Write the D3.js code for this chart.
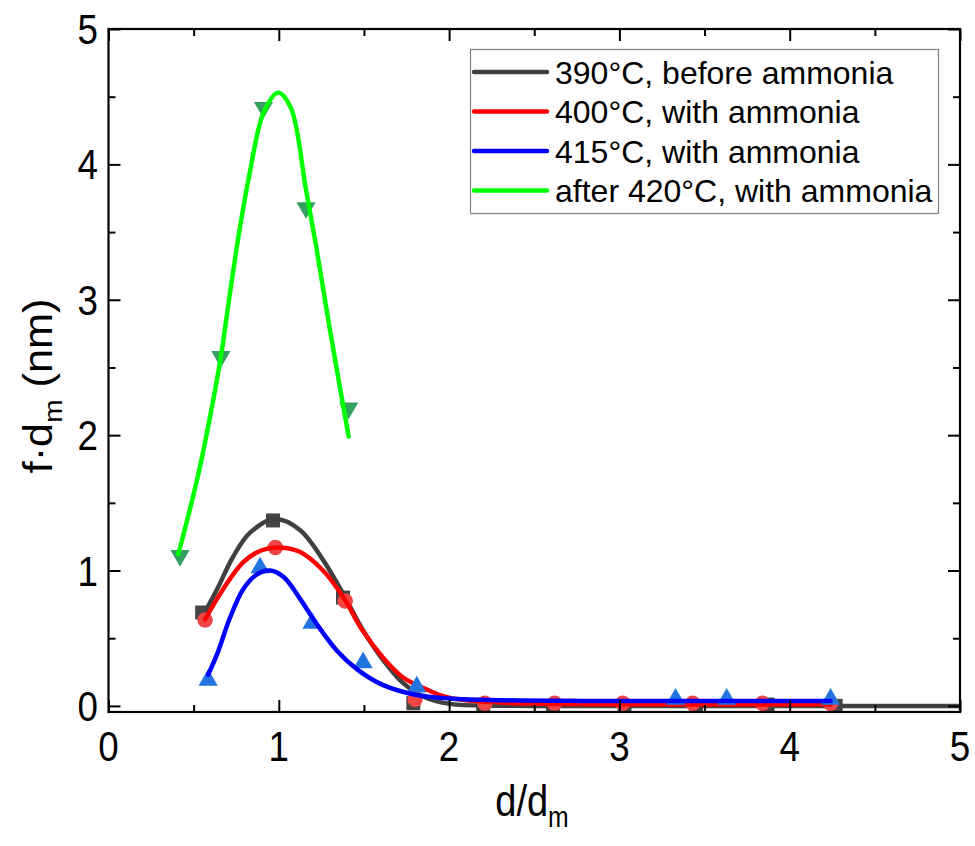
<!DOCTYPE html>
<html>
<head>
<meta charset="utf-8">
<script src="https://cdn.jsdelivr.net/npm/d3@7"></script>
<style>
  html, body { margin: 0; padding: 0; background: #fff; }
  svg { display: block; font-family: "Liberation Sans", Arial, sans-serif; }
</style>
</head>
<body>
<svg id="chart" width="975" height="846"></svg>
<script>
// ---------- data ----------
const seriesNames = ["390°C, before ammonia", "400°C, with ammonia", "415°C, with ammonia", "after 420°C, with ammonia"];

// measured points
const black390Pts = [[0.55,0.69],[0.966,1.37],[1.377,0.80],[1.79,0.02],[2.20,0.0],[2.61,0.0],[3.03,0.0],[3.45,0.0],[3.87,0.01],[4.27,0.0]];
const red400Pts   = [[0.567,0.635],[0.98,1.17],[1.39,0.775],[1.80,0.05],[2.21,0.02],[2.62,0.02],[3.02,0.02],[3.43,0.02],[3.84,0.02],[4.24,0.02]];
const blue415Pts  = [[0.585,0.19],[0.89,1.02],[1.195,0.61],[1.495,0.32],[1.81,0.14],[3.33,0.05],[3.63,0.05],[4.24,0.05]];
const green420Pts = [[0.42,1.11],[0.66,2.58],[0.91,4.42],[1.16,3.68],[1.41,2.20]];

// fitted curves
const black390Fit = [[0.56,0.68],[0.637,0.86],[0.731,1.10],[0.831,1.28],[0.978,1.38],[1.124,1.30],[1.259,1.08],[1.377,0.83],[1.494,0.56],[1.612,0.34],[1.729,0.17],[1.847,0.07],[2.005,0.015],[2.3,0.002],[2.8,0.0],[5.0,0.0]];
const red400Fit   = [[0.567,0.64],[0.672,0.86],[0.79,1.06],[0.90,1.15],[0.99,1.17],[1.12,1.14],[1.26,1.00],[1.38,0.80],[1.49,0.56],[1.61,0.36],[1.73,0.21],[1.87,0.12],[2.0,0.06],[2.3,0.025],[2.8,0.013],[3.5,0.01],[4.24,0.01]];
const blue415Fit  = [[0.585,0.23],[0.64,0.39],[0.71,0.64],[0.79,0.86],[0.87,0.97],[0.95,1.00],[1.03,0.95],[1.12,0.80],[1.22,0.61],[1.34,0.41],[1.46,0.27],[1.61,0.155],[1.81,0.08],[2.0,0.055],[2.3,0.042],[2.8,0.037],[3.5,0.036],[4.24,0.036]];
const green420Fit = [[0.41,1.12],[0.52,1.67],[0.60,2.16],[0.66,2.58],[0.71,3.02],[0.77,3.52],[0.83,3.94],[0.91,4.38],[0.995,4.53],[1.07,4.42],[1.16,3.81],[1.22,3.39],[1.30,2.78],[1.41,1.99]];

const xTicks = [0, 1, 2, 3, 4, 5];
const yTicks = [0, 1, 2, 3, 4, 5];
const xMinor = [0.5, 1.5, 2.5, 3.5, 4.5];
const yMinor = [0.5, 1.5, 2.5, 3.5, 4.5];

// ---------- layout ----------
const L = 108.5, R = 960, T = 29, B = 712;
const svg = d3.select("#chart");
const x = d3.scaleLinear().domain([0, 5]).range([L, R]);
const y = d3.scaleLinear().domain([-0.045, 5]).range([B, T]);

const lineColors = ["#404040", "#ff0000", "#0000ff", "#00ff00"];
const markColors = ["#454545", "#ef4545", "#2274e0", "#36a060"];
const symbols = [d3.symbolSquare, d3.symbolCircle, d3.symbolTriangle, d3.symbolTriangle];
const symSizes = [196, 190, 160, 160];
const rotations = [0, 0, 0, 180];
const pts = [black390Pts, red400Pts, blue415Pts, green420Pts];
const fits = [black390Fit, red400Fit, blue415Fit, green420Fit];

svg.append("defs").append("clipPath").attr("id", "plotclip")
  .append("rect").attr("x", L).attr("y", T).attr("width", R - L).attr("height", B - T);

const plot = svg.append("g").attr("clip-path", "url(#plotclip)");
const line = d3.line().x(d => x(d[0])).y(d => y(d[1])).curve(d3.curveCatmullRom.alpha(0.5));

for (let i = 0; i < 4; i++) {
  plot.append("g").selectAll("path").data(pts[i]).join("path")
    .attr("d", d3.symbol().type(symbols[i]).size(symSizes[i]))
    .attr("transform", d => `translate(${x(d[0])},${y(d[1])}) rotate(${rotations[i]})`)
    .attr("fill", markColors[i]);
  plot.append("path").datum(fits[i])
    .attr("d", line)
    .attr("fill", "none")
    .attr("stroke", lineColors[i])
    .attr("stroke-width", 4.5)
    .attr("stroke-linecap", "round")
    .attr("stroke-linejoin", "round");
}

// ---------- axes (ticks inward on all four sides) ----------
const majorLen = 12, minorLen = 7;
function axisG(axisFn, scale, ticks, len, tr) {
  return svg.append("g").attr("transform", tr)
    .call(axisFn(scale).tickValues(ticks).tickSize(len).tickFormat(""))
    .call(g => g.select(".domain").remove())
    .call(g => g.selectAll(".tick line").attr("stroke", "#000").attr("stroke-width", 2));
}
axisG(d3.axisTop, x, xTicks, majorLen, `translate(0,${B})`);
axisG(d3.axisTop, x, xMinor, minorLen, `translate(0,${B})`);
axisG(d3.axisBottom, x, xTicks, majorLen, `translate(0,${T})`);
axisG(d3.axisBottom, x, xMinor, minorLen, `translate(0,${T})`);
axisG(d3.axisRight, y, yTicks, majorLen, `translate(${L},0)`);
axisG(d3.axisRight, y, yMinor, minorLen, `translate(${L},0)`);
axisG(d3.axisLeft, y, yTicks, majorLen, `translate(${R},0)`);
axisG(d3.axisLeft, y, yMinor, minorLen, `translate(${R},0)`);

svg.append("rect").attr("x", L).attr("y", T).attr("width", R - L).attr("height", B - T)
  .attr("fill", "none").attr("stroke", "#000").attr("stroke-width", 2.2);

// tick labels
svg.append("g").selectAll("text").data(xTicks).join("text")
  .attr("transform", d => `translate(${x(d)},761) scale(0.92,1.06)`)
  .attr("text-anchor", "middle").attr("font-size", 40).attr("fill", "#000")
  .text(d => d);
svg.append("g").selectAll("text").data(yTicks).join("text")
  .attr("transform", d => `translate(98,${y(d) + 15}) scale(0.92,1.06)`)
  .attr("text-anchor", "end").attr("font-size", 40).attr("fill", "#000")
  .text(d => d);

// axis titles
const xt = svg.append("text").attr("transform", "translate(532,816) scale(0.95,1.1)").attr("text-anchor", "middle")
  .attr("font-size", 40).attr("fill", "#000");
xt.append("tspan").text("d/d");
xt.append("tspan").attr("font-size", 26).attr("dy", 10).text("m");

const yt = svg.append("text").attr("transform", "translate(52,386) rotate(-90) scale(1.08,1.0)")
  .attr("text-anchor", "middle").attr("font-size", 40).attr("fill", "#000");
yt.append("tspan").text("f·d");
yt.append("tspan").attr("font-size", 26).attr("dy", 10).text("m");
yt.append("tspan").attr("dy", -10).text(" (nm)");

// legend
const lg = svg.append("g");
lg.append("rect").attr("x", 470.5).attr("y", 49.5).attr("width", 468).attr("height", 164)
  .attr("fill", "#fff").attr("stroke", "#808080").attr("stroke-width", 1.2);
const rowY = [72, 111.5, 151, 190.5];
seriesNames.forEach((name, i) => {
  lg.append("line").attr("x1", 474).attr("x2", 547).attr("y1", rowY[i]).attr("y2", rowY[i])
    .attr("stroke", lineColors[i]).attr("stroke-width", 4.5).attr("stroke-linecap", "round");
  lg.append("text").attr("x", 555).attr("y", rowY[i] + 11.5)
    .attr("font-size", 32).attr("fill", "#000").text(name);
});
</script>
</body>
</html>
